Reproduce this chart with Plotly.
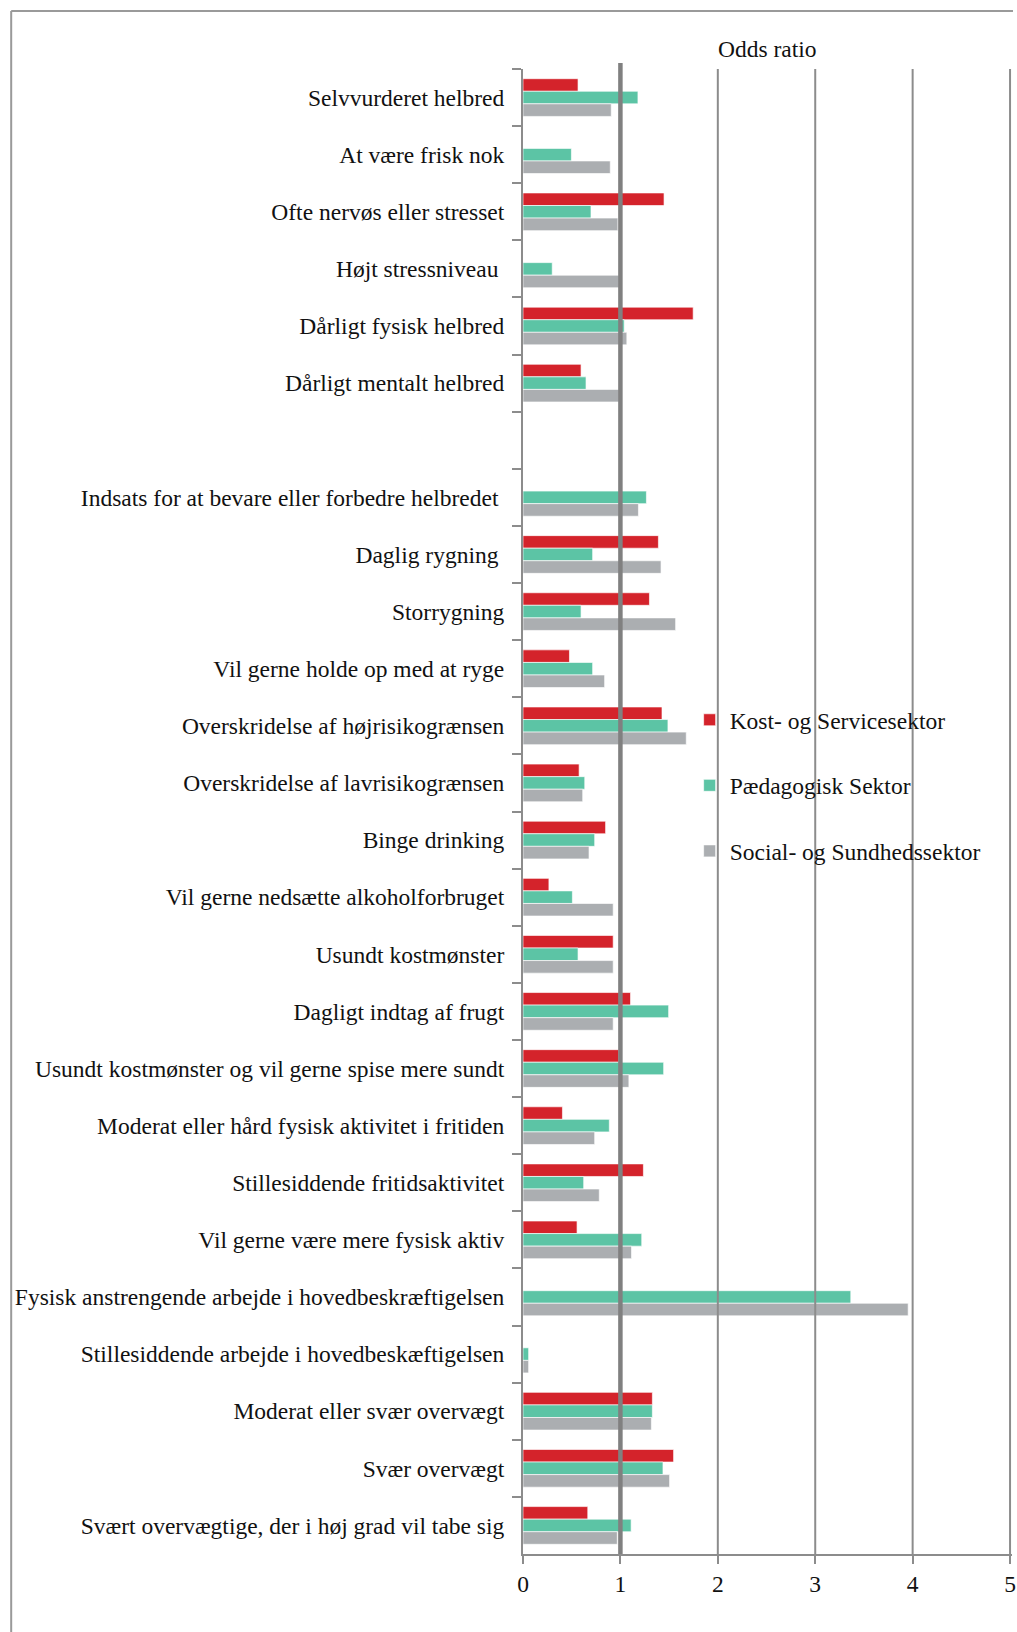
import plotly.graph_objects as go

categories = [
    "Selvvurderet helbred",
    "At være frisk nok",
    "Ofte nervøs eller stresset",
    "Højt stressniveau\u00a0",
    "Dårligt fysisk helbred",
    "Dårligt mentalt helbred",
    " ",
    "Indsats for at bevare eller forbedre helbredet\u00a0",
    "Daglig rygning\u00a0",
    "Storrygning",
    "Vil gerne holde op med at ryge",
    "Overskridelse af højrisikogrænsen",
    "Overskridelse af lavrisikogrænsen",
    "Binge drinking",
    "Vil gerne nedsætte alkoholforbruget",
    "Usundt kostmønster",
    "Dagligt indtag af frugt",
    "Usundt kostmønster og vil gerne spise mere sundt",
    "Moderat eller hård fysisk aktivitet i fritiden",
    "Stillesiddende fritidsaktivitet",
    "Vil gerne være mere fysisk aktiv",
    "Fysisk anstrengende arbejde i hovedbeskræftigelsen",
    "Stillesiddende arbejde i hovedbeskæftigelsen",
    "Moderat eller svær overvægt",
    "Svær overvægt",
    "Svært overvægtige, der i høj grad vil tabe sig",
]

kost = [0.565, None, 1.448, None, 1.747, 0.596, None, None, 1.39, 1.298,
        0.477, 1.427, 0.576, 0.848, 0.266, 0.926, 1.104, 0.984, 0.405, 1.236,
        0.555, None, None, 1.328, 1.546, 0.665]
paed = [1.18, 0.497, 0.698, 0.30, 1.039, 0.647, None, 1.267, 0.715, 0.596,
        0.715, 1.488, 0.634, 0.736, 0.507, 0.565, 1.495, 1.444, 0.886, 0.623,
        1.219, 3.365, 0.058, 1.328, 1.437, 1.11]
social = [0.906, 0.896, 0.974, 0.988, 1.066, 0.988, None, 1.185, 1.417, 1.567,
          0.838, 1.676, 0.613, 0.678, 0.926, 0.926, 0.926, 1.087, 0.736, 0.783,
          1.114, 3.954, 0.058, 1.318, 1.505, 0.968]

series_names = ["Kost- og Servicesektor", "Pædagogisk Sektor", "Social- og Sundhedssektor"]
series_colors = ["#D4232B", "#5CC4A5", "#ABAEB1"]
series_values = [kost, paed, social]

x_ticks = [0, 1, 2, 3, 4, 5]
ref_value = 1

FONT = "Liberation Serif"
FS = 23.5
GRID = "#8C8C8C"

fig = go.Figure()
for name, color, vals in zip(series_names, series_colors, series_values):
    fig.add_trace(go.Bar(
        y=categories, x=vals, name=name, orientation="h",
        marker=dict(color=color, line=dict(color="rgba(255,255,255,0.8)", width=0.8)),
        legendgroup=name,
    ))

shapes = []
for v in x_ticks[1:]:
    if v == ref_value:
        shapes.append(dict(type="line", xref="x", yref="paper", x0=v, x1=v, y0=0, y1=1.004,
                           line=dict(color="#808080", width=4.5), layer="above"))
    else:
        shapes.append(dict(type="line", xref="x", yref="paper", x0=v, x1=v, y0=0, y1=1,
                           line=dict(color=GRID, width=2), layer="above"))

# outer frame (top and left edges visible)
plot_l, plot_r, plot_t, plot_b = 523, 1016, 69, 1554
pw, ph = plot_r - plot_l, plot_b - plot_t
def px(xp):
    return (xp - plot_l) / pw
def py(yp):
    return (plot_b - yp) / ph
shapes.append(dict(type="line", xref="paper", yref="paper", x0=px(7), x1=px(1017),
                   y0=py(11), y1=py(11), line=dict(color="#9A9A9A", width=2)))
shapes.append(dict(type="line", xref="paper", yref="paper", x0=px(7), x1=px(7),
                   y0=py(11), y1=py(1632), line=dict(color="#9A9A9A", width=2)))

fig.update_layout(
    width=1017, height=1632,
    margin=dict(l=plot_l, r=1017 - plot_r, t=plot_t, b=1632 - plot_b),
    paper_bgcolor="white", plot_bgcolor="white",
    barmode="group", bargap=0.34, bargroupgap=0,
    font=dict(family=FONT, size=FS, color="#111111"),
    shapes=shapes,
    showlegend=True,
    legend=dict(
        x=px(691), y=py(698), xanchor="left", yanchor="top",
        traceorder="grouped", tracegroupgap=32,
        bgcolor="rgba(0,0,0,0)", font=dict(family=FONT, size=FS, color="#111111"),
    ),
    annotations=[dict(text="Odds ratio", xref="paper", yref="paper", x=0.5, y=py(49),
                      xanchor="center", yanchor="middle", showarrow=False,
                      font=dict(family=FONT, size=FS, color="#111111"))],
)

fig.update_xaxes(
    range=[0, 5.02], tickvals=x_ticks, ticktext=[str(t) for t in x_ticks],
    showgrid=False, zeroline=False,
    showline=True, linecolor=GRID, linewidth=2,
    ticks="outside", ticklen=8, tickwidth=2, tickcolor=GRID,
    ticklabeloverflow="allow",
    tickfont=dict(family=FONT, size=FS, color="#111111"),
)
fig.update_yaxes(
    type="category", autorange="reversed",
    showgrid=False, zeroline=False,
    showline=True, linecolor=GRID, linewidth=2,
    ticks="outside", tickson="boundaries", ticklen=9, tickwidth=2, tickcolor=GRID,
    ticklabelstandoff=12,
    tickfont=dict(family=FONT, size=FS, color="#111111"),
)

fig.write_html("out.html", config={"displayModeBar": False},
               post_script="document.body.style.margin='0';document.body.style.overflow='hidden';")
